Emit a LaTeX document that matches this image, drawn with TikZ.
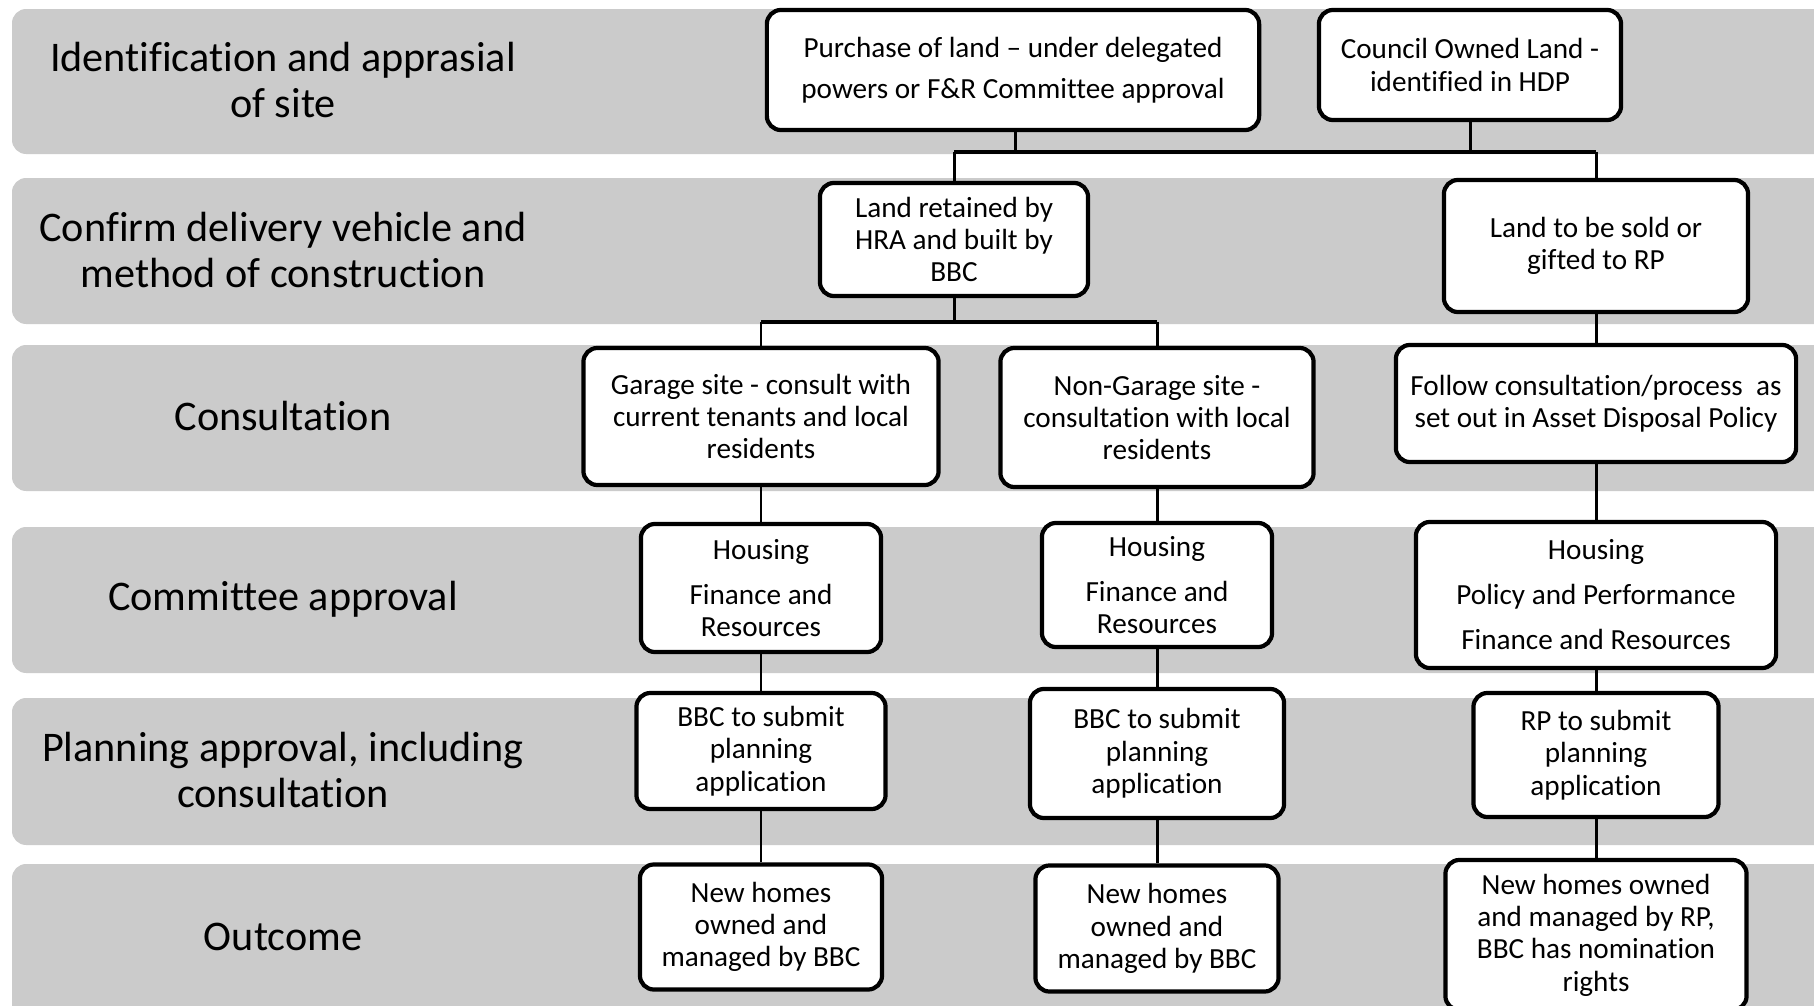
\documentclass[tikz,border=0pt]{standalone}
\usepackage{fontspec}
\setmainfont[Ligatures=NoCommon]{Carlito}
\definecolor{bandgray}{RGB}{203,203,203}
\begin{document}
\begin{tikzpicture}[x=0.01cm,y=-0.01cm,
  band/.style={fill=bandgray,rounded corners=4pt},
  lab/.style={align=center,font=\fontsize{12}{13.2}\selectfont,inner sep=0pt},
  box/.style={draw=black,fill=white,line width=1.2pt,rounded corners=4pt,align=center,inner sep=0pt,font=\fontsize{8.3}{9.2}\selectfont},
  conn/.style={line width=0.85pt,draw=black},
  bar/.style={line width=1.4pt,draw=black}]
\useasboundingbox (0,0) rectangle (1814,1006);
% bands
\fill[band] (12,9) rectangle (1840,154);
\fill[band] (12,178) rectangle (1840,324);
\fill[band] (12,345) rectangle (1840,491);
\fill[band] (12,527) rectangle (1840,673);
\fill[band] (12,698) rectangle (1840,845);
\fill[band] (12,864) rectangle (1840,1040);
% labels
\node[lab] (l1) at (283,80) {Identification and apprasial\\of site};
\node[lab] (l2) at (283,250) {Confirm delivery vehicle and\\method of construction};
\node[lab] (l3) at (283,416) {Consultation};
\node[lab] (l4) at (283,599) {Committee approval};
\node[lab] (l5) at (283,770) {Planning approval, including\\consultation};
\node[lab] (l6) at (283,937) {Outcome};
% junctions
\coordinate (j1) at (954,152);
\coordinate (j2) at (761,322);
% connectors (drawn first, boxes on top)
\coordinate (c1) at (1015,70);
\coordinate (c2) at (1470,65);
\coordinate (c3) at (954,239.5);
\coordinate (c4) at (1596,246);
\draw[conn] (c1) -- (c1 |- j1);
\draw[conn] (c2) -- (c2 |- j1);
\draw[bar] (c3 |- j1) -- (c4 |- j1);
\draw[conn] (c3 |- j1) -- (c3);
\draw[conn] (c4 |- j1) -- (c4);
\coordinate (c5) at (761,416.5);
\coordinate (c6) at (1157,417.5);
\draw[conn] (c3) -- (c3 |- j2);
\draw[bar] (c5 |- j2) -- (c6 |- j2);
\draw[conn] (c5 |- j2) -- (c5);
\draw[conn] (c6 |- j2) -- (c6);
% boxes
\node[box,minimum width=4.92cm,minimum height=1.20cm,font=\fontsize{8.3}{11.8}\selectfont] (b1) at (1013,70) {Purchase of land -- under delegated\\powers or F\&R Committee approval};
\node[box,minimum width=3.02cm,minimum height=1.10cm] (b2) at (c2) {Council Owned Land -\\identified in HDP};
\node[box,minimum width=2.68cm,minimum height=1.13cm] (b3) at (c3) {Land retained by\\HRA and built by\\BBC};
\node[box,minimum width=3.04cm,minimum height=1.32cm] (b4) at (c4) {Land to be sold or\\gifted to RP};
\node[box,minimum width=3.55cm,minimum height=1.37cm] (b5) at (c5) {Garage site - consult with\\current tenants and local\\residents};
\node[box,minimum width=3.13cm,minimum height=1.39cm] (b6) at (c6) {Non-Garage site -\\consultation with local\\residents};
\node[box,minimum width=4.00cm,minimum height=1.17cm] (b7) at (1596,403.5) {Follow consultation/process\ \ as\\set out in Asset Disposal Policy};
\node[box,minimum width=2.40cm,minimum height=1.28cm] (b8) at (761,588) {Housing\\[3.6pt]Finance and\\Resources};
\node[box,minimum width=2.30cm,minimum height=1.24cm] (b9) at (1157,585) {Housing\\[3.6pt]Finance and\\Resources};
\node[box,minimum width=3.60cm,minimum height=1.46cm,font=\fontsize{8.3}{12.8}\selectfont] (b10) at (1596,595) {Housing\\Policy and Performance\\Finance and Resources};
\node[box,minimum width=2.49cm,minimum height=1.16cm] (b11) at (761,751) {BBC to submit\\planning\\application};
\node[box,minimum width=2.54cm,minimum height=1.29cm] (b12) at (1157,753.5) {BBC to submit\\planning\\application};
\node[box,minimum width=2.45cm,minimum height=1.24cm] (b13) at (1596,755) {RP to submit\\planning\\application};
\node[box,minimum width=2.42cm,minimum height=1.25cm] (b14) at (761,927) {New homes\\owned and\\managed by BBC};
\node[box,minimum width=2.43cm,minimum height=1.26cm] (b15) at (1157,928.5) {New homes\\owned and\\managed by BBC};
\node[box,minimum width=3.01cm,minimum height=1.50cm] (b16) at (1596,935) {New homes owned\\and managed by RP,\\BBC has nomination\\rights};
% vertical connectors between rows
\draw[conn] (b5.south) -- (b8.north);
\draw[conn] (b8.south) -- (b11.north);
\draw[conn] (b11.south) -- (b14.north);
\draw[conn] (b6.south) -- (b9.north);
\draw[conn] (b9.south) -- (b12.north);
\draw[conn] (b12.south) -- (b15.north);
\draw[conn] (b4.south) -- (b7.north);
\draw[conn] (b7.south) -- (b10.north);
\draw[conn] (b10.south) -- (b13.north);
\draw[conn] (b13.south) -- (b16.north);
\end{tikzpicture}
\end{document}
